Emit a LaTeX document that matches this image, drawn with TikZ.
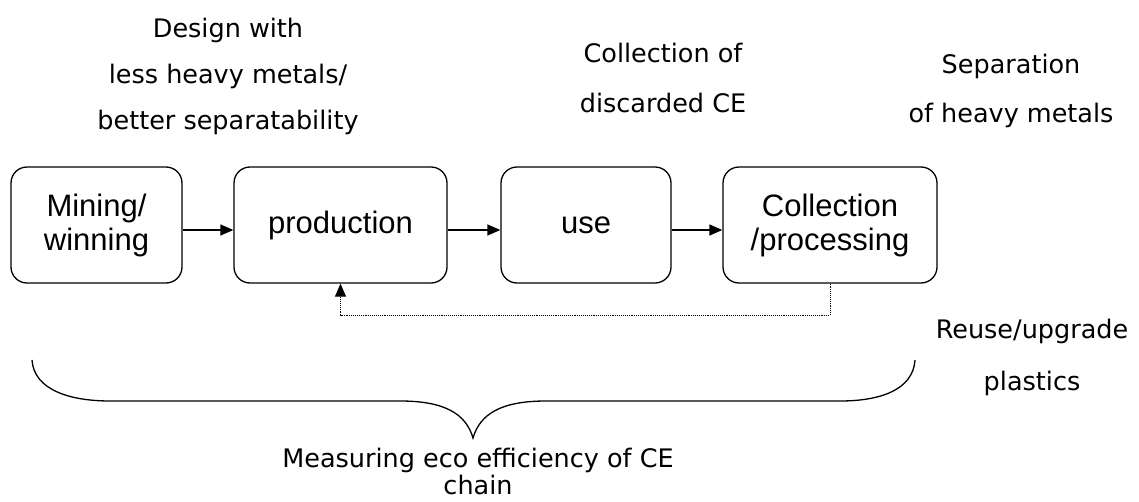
\documentclass[tikz,border=0pt]{standalone}
\usepackage{fontspec}
\setmainfont{Liberation Sans}
\newfontfamily\labelfont{DejaVu Sans}
\usetikzlibrary{arrows.meta}
\begin{document}
\begin{tikzpicture}[x=1pt,y=-1pt,
  stage/.style={draw, line width=1.3pt, rounded corners=16pt, minimum height=116pt,
    inner sep=0pt, align=center, font={\fontsize{31}{34}\selectfont}},
  lbl/.style={inner sep=0pt, align=center, anchor=north},
  flow/.style={line width=1.3pt, -{Triangle[length=13pt,width=11pt]}},
  back/.style={line width=0.9pt, densely dotted, -{Triangle[length=13pt,width=11pt]}},
  brace/.style={line width=1.3pt}]
\useasboundingbox (0,0) rectangle (1139,502);

% stages
\node[stage, minimum width=171pt] (mine) at (96.5,225) {Mining/\\winning};
\node[stage, minimum width=213pt] (prod) at (340.5,225) {production};
\node[stage, minimum width=170pt] (use)  at (586,225)  {use};
\node[stage, minimum width=214pt] (coll) at (830,225)  {Collection\\/processing};

% flow arrows
\draw[flow] ([yshift=-5pt]mine.east) -- ([yshift=-5pt]prod.west);
\draw[flow] ([yshift=-5pt]prod.east) -- ([yshift=-5pt]use.west);
\draw[flow] ([yshift=-5pt]use.east)  -- ([yshift=-5pt]coll.west);

% feedback loop
\coordinate (fbL) at (340.5,315);
\draw[back] (coll.south) |- (fbL) -- (prod.south);

% brace
\draw[brace] (32,360) .. controls (34,390) and (70,401) .. (110,401)
  -- (400,401) .. controls (445,401) and (466,414) .. (473,438)
  .. controls (480,414) and (501,401) .. (546,401)
  -- (840,401) .. controls (880,401) and (913,390) .. (915,360);

% labels
\node[lbl, font={\labelfont\fontsize{25.5}{46}\selectfont}] (design) at (228,17.6)
  {Design with\\less heavy metals/\\better separatability};
\node[lbl, font={\labelfont\fontsize{25.5}{50}\selectfont}] (collect) at (663,42.6)
  {Collection of\\discarded CE};
\node[lbl, font={\labelfont\fontsize{25.5}{49}\selectfont}] (separ) at (1011,54.4)
  {Separation\\of heavy metals};
\node[lbl, font={\labelfont\fontsize{25.5}{52}\selectfont}] (reuse) at (1032,318.6)
  {Reuse/upgrade\\plastics};
\node[lbl, font={\labelfont\fontsize{25.5}{27}\selectfont}] (measure) at (478,448)
  {Measuring eco efficiency of CE\\chain};
\end{tikzpicture}
\end{document}
